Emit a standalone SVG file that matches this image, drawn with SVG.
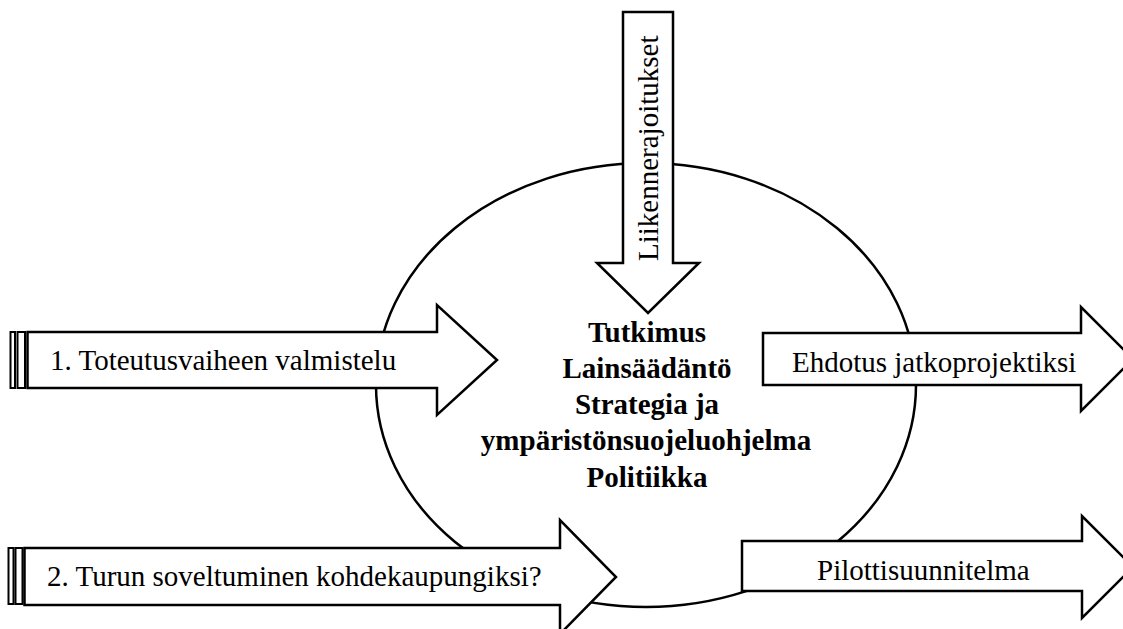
<svg xmlns="http://www.w3.org/2000/svg" width="1123" height="629" viewBox="0 0 1123 629">
  <style>
    .shape { fill: #ffffff; stroke: #000000; stroke-width: 2.5; stroke-linejoin: miter; }
    .bar { fill: #ffffff; stroke: #000000; stroke-width: 2; }
    .label { font-family: "Liberation Serif", "Times New Roman", serif; font-size: 29px; fill: #000000; }
    .core { font-family: "Liberation Serif", "Times New Roman", serif; font-size: 29px; font-weight: bold; fill: #000000; text-anchor: middle; }
  </style>
  <rect width="1123" height="629" fill="#ffffff"/>

  <!-- central ellipse -->
  <g id="core">
    <ellipse class="shape" cx="646" cy="385" rx="270" ry="222"/>
  </g>

  <g id="connectors">
    <!-- incoming: traffic restrictions (from top) -->
    <g id="arrow-liikennerajoitukset">
      <polygon class="shape" points="623,12 673,12 673,263 699,263 648,313 597,263 623,263"/>
      <text class="label" transform="translate(658,261) rotate(-90)">Liikennerajoitukset</text>
    </g>
    <!-- incoming: phase 1 -->
    <g id="arrow-phase1">
      <rect class="bar" x="10.5" y="332" width="4.5" height="56"/>
      <rect class="bar" x="17.5" y="332" width="7.5" height="56"/>
      <polygon class="shape" points="27.5,332 437,332 437,305 497,360 437,415 437,388 27.5,388"/>
      <text class="label" x="50" y="370">1. Toteutusvaiheen valmistelu</text>
    </g>
    <!-- incoming: phase 2 -->
    <g id="arrow-phase2">
      <rect class="bar" x="8.5" y="548" width="5" height="56"/>
      <rect class="bar" x="15.5" y="548" width="7" height="56"/>
      <polygon class="shape" points="24.5,548 560,548 560,520 616,577 560,634 560,605 24.5,605"/>
      <text class="label" x="47" y="586">2. Turun soveltuminen kohdekaupungiksi?</text>
    </g>
    <!-- outgoing: follow-up proposal -->
    <g id="arrow-ehdotus">
      <polygon class="shape" points="763,333 1081,333 1081,307 1133,359 1081,411 1081,385 763,385"/>
      <text class="label" x="792" y="372">Ehdotus jatkoprojektiksi</text>
    </g>
    <!-- outgoing: pilot plan -->
    <g id="arrow-pilotti">
      <polygon class="shape" points="742,541 1082,541 1082,516 1133,567 1082,618 1082,591 742,591"/>
      <text class="label" x="817" y="580">Pilottisuunnitelma</text>
    </g>
  </g>

  <!-- contents of the core -->
  <g id="core-text">
    <text class="core" x="647" y="342">Tutkimus</text>
    <text class="core" x="647" y="378">Lainsäädäntö</text>
    <text class="core" x="647" y="414">Strategia ja</text>
    <text class="core" x="646" y="450">ympäristönsuojeluohjelma</text>
    <text class="core" x="647" y="487">Politiikka</text>
  </g>
</svg>
